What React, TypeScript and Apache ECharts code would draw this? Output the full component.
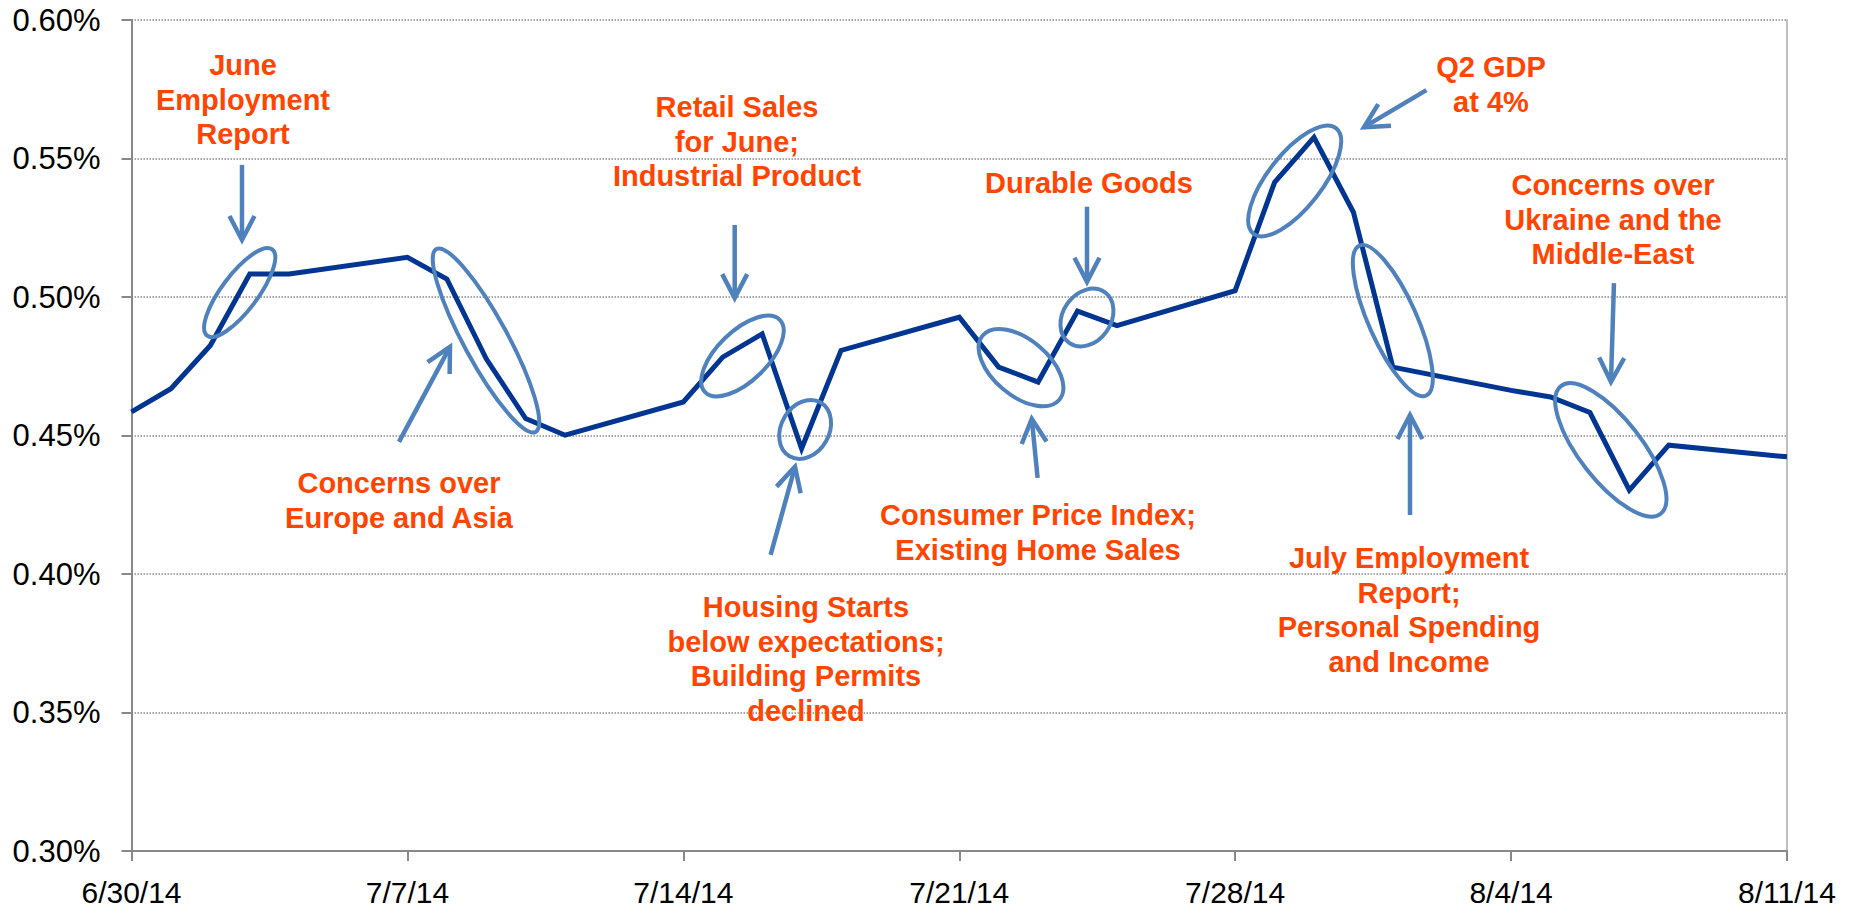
import React, { useEffect, useRef } from "react";
import * as echarts from "echarts";

// ---- data ----
const startDate = "2014-06-30";
const dates = [
  "2014-06-30", "2014-07-01", "2014-07-02", "2014-07-03", "2014-07-04",
  "2014-07-07", "2014-07-08", "2014-07-09", "2014-07-10", "2014-07-11",
  "2014-07-14", "2014-07-15", "2014-07-16", "2014-07-17", "2014-07-18",
  "2014-07-21", "2014-07-22", "2014-07-23", "2014-07-24", "2014-07-25",
  "2014-07-28", "2014-07-29", "2014-07-30", "2014-07-31", "2014-08-01",
  "2014-08-04", "2014-08-05", "2014-08-06", "2014-08-07", "2014-08-08",
  "2014-08-11",
];
const yields = [
  0.4585, 0.4669, 0.4825, 0.5083, 0.5083,
  0.5143, 0.5065, 0.4777, 0.4561, 0.4501,
  0.4621, 0.4783, 0.4867, 0.4453, 0.4807,
  0.4927, 0.4747, 0.4693, 0.4949, 0.4897,
  0.5023, 0.5414, 0.5576, 0.5306, 0.4747,
  0.4663, 0.4639, 0.4583, 0.4303, 0.4465,
  0.4423,
];
const xTickLabels = ["6/30/14", "7/7/14", "7/14/14", "7/21/14", "7/28/14", "8/4/14", "8/11/14"];
const yMin = 0.3;
const yMax = 0.6;
const yStep = 0.05;

// ---- annotations (in data coordinates: [day offset, yield %]) ----
const noteTexts = [
  "June\nEmployment\nReport",
  "Concerns over\nEurope and Asia",
  "Retail Sales\nfor June;\nIndustrial Product",
  "Housing Starts\nbelow expectations;\nBuilding Permits\ndeclined",
  "Consumer Price Index;\nExisting Home Sales",
  "Durable Goods",
  "Q2 GDP\nat 4%",
  "July Employment\nReport;\nPersonal Spending\nand Income",
  "Concerns over\nUkraine and the\nMiddle-East",
];
const noteAnchors = [
  [2.829, 0.5899],
  [6.786, 0.439],
  [15.361, 0.5747],
  [17.112, 0.3942],
  [22.998, 0.4274],
  [24.291, 0.5473],
  [34.49, 0.5892],
  [32.41, 0.4119],
  [37.585, 0.5466],
];
const ellipseCenters = [
  [2.745, 0.5016],
  [8.994, 0.4843],
  [15.5, 0.4787],
  [17.09, 0.4522],
  [22.567, 0.4745],
  [24.24, 0.4926],
  [29.51, 0.5419],
  [32.0, 0.4915],
  [37.53, 0.4448],
];
const ellipseRadii = [
  [54, 18], [104, 22], [52, 25], [31, 24], [50, 28], [31, 24], [67, 27], [82, 24], [81, 31],
];
const ellipseAngles = [53, -61.5, 44, 60, -40, 55, 52, -66, -52];
const arrowTails = [
  [2.803, 0.5477], [6.786, 0.4477], [15.303, 0.526], [16.214, 0.4069], [22.988, 0.4347],
  [24.241, 0.5326], [32.851, 0.5747], [32.435, 0.4213], [37.61, 0.505],
];
const arrowTips = [
  [2.803, 0.5206], [8.08, 0.482], [15.303, 0.4996], [16.833, 0.4387], [22.84, 0.456],
  [24.241, 0.5055], [31.268, 0.5613], [32.435, 0.4574], [37.534, 0.4694],
];

const DAY_MS = 86400000;
const toDay = (s: string) => (Date.parse(s) - Date.parse(startDate)) / DAY_MS;

const FONT = '"Liberation Sans", Arial, Helvetica, sans-serif';
const LINE_COLOR = "#003591";
const ANNO_BLUE = "#4F81BD";
const TEXT_ORANGE = "#FF4500";

export default function App() {
  const ref = useRef<HTMLDivElement>(null);

  useEffect(() => {
    if (!ref.current) return;
    const chart = echarts.init(ref.current, undefined, { renderer: "svg" });
    const seriesData = dates.map((d, i) => [toDay(d), yields[i]]);
    const xMax = (xTickLabels.length - 1) * 7;

    chart.setOption({
      animation: false,
      backgroundColor: "#ffffff",
      grid: { left: 131.5, right: 65, top: 20, bottom: 57, containLabel: false },
      xAxis: {
        type: "value",
        min: 0,
        max: xMax,
        interval: 7,
        axisLine: { show: true, onZero: false, lineStyle: { color: "#888888", width: 2 } },
        axisTick: { show: true, length: 10, lineStyle: { color: "#888888", width: 2 } },
        splitLine: { show: false },
        axisLabel: {
          formatter: (v: number) => xTickLabels[Math.round(v / 7)] ?? "",
          color: "#000000",
          fontSize: 30,
          fontFamily: FONT,
          margin: 26,
          showMaxLabel: true,
          showMinLabel: true,
        },
      },
      yAxis: [
        {
          type: "value",
          min: yMin,
          max: yMax,
          interval: yStep,
          axisLine: { show: true, lineStyle: { color: "#888888", width: 2 } },
          axisTick: { show: true, length: 10, lineStyle: { color: "#888888", width: 2 } },
          splitLine: { show: true, lineStyle: { type: "dotted", color: "#8a8a8a", width: 1.5 } },
          axisLabel: {
            formatter: (v: number) => v.toFixed(2) + "%",
            color: "#000000",
            fontSize: 31,
            fontFamily: FONT,
            margin: 31,
          },
        },
        {
          type: "value",
          position: "right",
          min: yMin,
          max: yMax,
          interval: yStep,
          axisLine: { show: true, lineStyle: { color: "#c0c0c0", width: 2 } },
          axisTick: { show: false },
          axisLabel: { show: false },
          splitLine: { show: false },
        },
      ],
      series: [
        {
          type: "line",
          data: seriesData,
          showSymbol: false,
          symbol: "none",
          lineStyle: { color: LINE_COLOR, width: 5, join: "miter", miterLimit: 10 },
          z: 3,
        },
      ],
    });

    const px = (p: number[]) => chart.convertToPixel({ gridIndex: 0 }, p) as number[];
    const elements: any[] = [];

    ellipseCenters.forEach((c, i) => {
      const p = px(c);
      elements.push({
        type: "ellipse",
        x: p[0],
        y: p[1],
        rotation: (ellipseAngles[i] * Math.PI) / 180,
        shape: { cx: 0, cy: 0, rx: ellipseRadii[i][0], ry: ellipseRadii[i][1] },
        style: { fill: "none", stroke: ANNO_BLUE, lineWidth: 4 },
        z: 10,
      });
    });

    arrowTails.forEach((t, i) => {
      const a = px(t);
      const b = px(arrowTips[i]);
      const dx = b[0] - a[0];
      const dy = b[1] - a[1];
      const len = Math.sqrt(dx * dx + dy * dy) || 1;
      const ux = dx / len;
      const uy = dy / len;
      const nx = -uy;
      const ny = ux;
      const hl = 24;
      const hw = 12.5;
      elements.push({
        type: "line",
        shape: { x1: a[0], y1: a[1], x2: b[0] - ux * 2, y2: b[1] - uy * 2 },
        style: { stroke: ANNO_BLUE, lineWidth: 4.5 },
        z: 10,
      });
      elements.push({
        type: "polyline",
        shape: {
          points: [
            [b[0] - ux * hl + nx * hw, b[1] - uy * hl + ny * hw],
            [b[0], b[1]],
            [b[0] - ux * hl - nx * hw, b[1] - uy * hl - ny * hw],
          ],
        },
        style: { stroke: ANNO_BLUE, lineWidth: 4.5, fill: "none", lineJoin: "miter" },
        z: 10,
      });
    });

    noteAnchors.forEach((n, i) => {
      const p = px(n);
      elements.push({
        type: "text",
        x: p[0],
        y: p[1],
        style: {
          text: noteTexts[i],
          fill: TEXT_ORANGE,
          fontSize: 29,
          fontWeight: "bold",
          fontFamily: FONT,
          align: "center",
          verticalAlign: "top",
          lineHeight: 34.5,
        },
        z: 11,
      });
    });

    chart.setOption({ graphic: { elements } });

    return () => chart.dispose();
  }, []);

  return (
    <div
      ref={ref}
      style={{ position: "fixed", left: 0, top: 0, width: 1852, height: 908, background: "#fff" }}
    />
  );
}
